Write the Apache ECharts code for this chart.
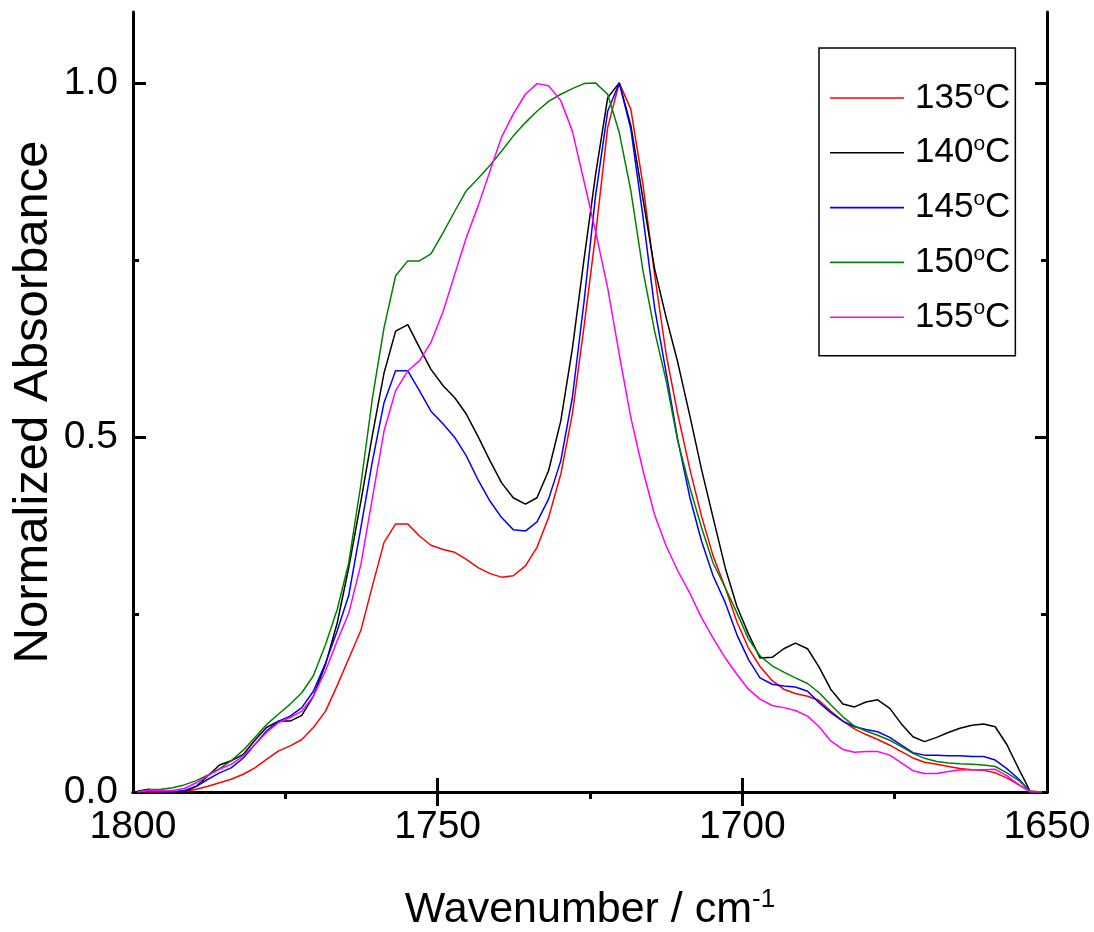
<!DOCTYPE html>
<html>
<head>
<meta charset="utf-8">
<script src="https://cdn.jsdelivr.net/npm/echarts@6/dist/echarts.min.js"></script>
<style>
  html, body { margin: 0; padding: 0; background: #ffffff; }
  #chart { width: 1094px; height: 932px; }
</style>
</head>
<body>
<div id="chart"></div>
<script>
// Wavenumber grid of the spectra (cm^-1), high to low
const wavenumbers = [
  1799.3, 1797.4, 1795.4, 1793.5, 1791.6, 1789.6, 1787.7, 1785.8, 1783.9, 1781.9,
  1780.0, 1778.1, 1776.1, 1774.2, 1772.3, 1770.4, 1768.4, 1766.5, 1764.6, 1762.6,
  1760.7, 1758.8, 1756.9, 1754.9, 1753.0, 1751.1, 1749.1, 1747.2, 1745.3, 1743.3,
  1741.4, 1739.5, 1737.6, 1735.6, 1733.7, 1731.8, 1729.8, 1727.9, 1726.0, 1724.1,
  1722.1, 1720.2, 1718.3, 1716.3, 1714.4, 1712.5, 1710.6, 1708.6, 1706.7, 1704.8,
  1702.8, 1700.9, 1699.0, 1697.1, 1695.1, 1693.2, 1691.3, 1689.3, 1687.4, 1685.5,
  1683.5, 1681.6, 1679.7, 1677.8, 1675.8, 1673.9, 1672.0, 1670.1, 1668.1, 1666.2,
  1664.3, 1662.3, 1660.4, 1658.5, 1656.6, 1654.6, 1652.7, 1650.8
];

// Normalized absorbance at each temperature
const abs135 = [
  0, 0, 0, 0, 0, 0.004, 0.008, 0.013, 0.018, 0.025,
  0.034, 0.046, 0.058, 0.065, 0.074, 0.091, 0.114, 0.150, 0.188, 0.228,
  0.291, 0.352, 0.378, 0.378, 0.361, 0.348, 0.342, 0.338, 0.328, 0.316,
  0.308, 0.303, 0.305, 0.319, 0.345, 0.387, 0.448, 0.533, 0.655, 0.785,
  0.937, 1.000, 0.963, 0.856, 0.730, 0.617, 0.533, 0.455, 0.389, 0.333,
  0.288, 0.240, 0.203, 0.177, 0.157, 0.145, 0.139, 0.135, 0.129, 0.114,
  0.100, 0.089, 0.081, 0.074, 0.066, 0.057, 0.048, 0.042, 0.039, 0.036,
  0.033, 0.0315, 0.0305, 0.027, 0.020, 0.010, 0.001, 0
];
const abs140 = [
  0.001, 0.004, 0.001, 0, 0, 0.008, 0.023, 0.038, 0.044, 0.053,
  0.073, 0.091, 0.100, 0.100, 0.108, 0.135, 0.180, 0.238, 0.316, 0.410,
  0.504, 0.591, 0.650, 0.659, 0.627, 0.596, 0.573, 0.556, 0.533, 0.500,
  0.467, 0.436, 0.415, 0.406, 0.415, 0.453, 0.523, 0.625, 0.750, 0.870,
  0.979, 1.000, 0.940, 0.836, 0.738, 0.669, 0.606, 0.530, 0.455, 0.387,
  0.316, 0.262, 0.223, 0.189, 0.190, 0.202, 0.210, 0.202, 0.176, 0.145,
  0.124, 0.120, 0.127, 0.130, 0.118, 0.096, 0.078, 0.071, 0.077, 0.084,
  0.090, 0.094, 0.096, 0.092, 0.067, 0.032, 0, 0
];
const abs145 = [
  0, 0.001, 0.0005, 0.0005, 0.002, 0.008, 0.018, 0.027, 0.034, 0.048,
  0.067, 0.086, 0.100, 0.107, 0.119, 0.142, 0.182, 0.227, 0.277, 0.373,
  0.467, 0.549, 0.594, 0.594, 0.566, 0.537, 0.519, 0.500, 0.474, 0.439,
  0.410, 0.387, 0.370, 0.368, 0.381, 0.413, 0.467, 0.556, 0.690, 0.840,
  0.960, 1.000, 0.935, 0.811, 0.683, 0.591, 0.497, 0.415, 0.354, 0.305,
  0.267, 0.222, 0.187, 0.161, 0.152, 0.1495, 0.148, 0.142, 0.126, 0.112,
  0.100, 0.092, 0.088, 0.085, 0.077, 0.066, 0.0555, 0.052, 0.0517, 0.051,
  0.051, 0.050, 0.050, 0.045, 0.033, 0.018, 0, 0
];
const abs150 = [
  0, 0.003, 0.004, 0.006, 0.010, 0.016, 0.024, 0.033, 0.044, 0.059,
  0.077, 0.095, 0.110, 0.124, 0.140, 0.164, 0.208, 0.257, 0.323, 0.434,
  0.556, 0.655, 0.728, 0.749, 0.749, 0.759, 0.789, 0.819, 0.848, 0.866,
  0.884, 0.904, 0.925, 0.944, 0.960, 0.974, 0.984, 0.992, 0.999, 1.000,
  0.984, 0.930, 0.848, 0.735, 0.650, 0.580, 0.495, 0.429, 0.373, 0.323,
  0.288, 0.253, 0.216, 0.192, 0.178, 0.169, 0.161, 0.153, 0.140, 0.123,
  0.106, 0.093, 0.086, 0.080, 0.073, 0.064, 0.0545, 0.0475, 0.043, 0.041,
  0.040, 0.039, 0.038, 0.036, 0.027, 0.016, 0.001, 0
];
const abs155 = [
  0, 0.002, 0.002, 0.002, 0.005, 0.013, 0.023, 0.032, 0.039, 0.051,
  0.067, 0.084, 0.098, 0.105, 0.114, 0.135, 0.171, 0.213, 0.252, 0.321,
  0.415, 0.509, 0.566, 0.594, 0.608, 0.634, 0.678, 0.730, 0.782, 0.828,
  0.876, 0.924, 0.956, 0.984, 0.999, 0.996, 0.975, 0.932, 0.862, 0.791,
  0.711, 0.617, 0.528, 0.453, 0.391, 0.347, 0.312, 0.280, 0.246, 0.217,
  0.189, 0.166, 0.145, 0.131, 0.122, 0.119, 0.115, 0.107, 0.092, 0.072,
  0.060, 0.056, 0.057, 0.057, 0.052, 0.041, 0.030, 0.026, 0.026, 0.029,
  0.031, 0.0315, 0.0315, 0.032, 0.023, 0.010, 0, 0
];

const seriesNames = ['135°C', '140°C', '145°C', '150°C', '155°C'];
const seriesColors = ['#ff0000', '#000000', '#0000ff', '#008000', '#ff00ff'];
const seriesValues = [abs135, abs140, abs145, abs150, abs155];

// Tick positions
const xMajorTicks = [1800, 1750, 1700, 1650];
const xMinorTicks = [1775, 1725, 1675];
const yMajorTicks = [0, 0.5, 1.0];
const yMinorTicks = [0.25, 0.75];

const SANS = '"Liberation Sans", Arial, sans-serif';
const frameLine = { show: true, lineStyle: { color: '#000', width: 3 } };
const noLine = { show: false };
const noLabel = { show: false };

function xAxisBase(extra) {
  return Object.assign({
    type: 'value', min: 1650, max: 1800, inverse: true,
    splitLine: { show: false }
  }, extra);
}
function yAxisBase(extra) {
  return Object.assign({
    type: 'value', min: 0, max: 1.1,
    splitLine: { show: false }
  }, extra);
}
function ticks(values, inside, length) {
  return { show: true, inside: inside, length: length, customValues: values,
           lineStyle: { color: '#000', width: 3 } };
}

const chart = echarts.init(document.getElementById('chart'), null, { renderer: 'canvas' });

chart.setOption({
  animation: false,
  backgroundColor: '#ffffff',
  grid: { left: 133, right: 47, top: 12, bottom: 140, containLabel: false, outerBoundsMode: 'none' },
  xAxis: [
    xAxisBase({
      position: 'bottom',
      axisLine: frameLine,
      axisTick: ticks(xMajorTicks, true, 14),
      axisLabel: {
        customValues: xMajorTicks, margin: 16,
        fontSize: 39, fontFamily: SANS, color: '#000',
        formatter: v => String(v)
      },
      name: '{t|Wavenumber / cm}{s|-1}',
      nameLocation: 'middle',
      nameGap: 95,
      nameTextStyle: {
        rich: {
          t: { fontSize: 43, fontFamily: SANS, color: '#000', lineHeight: 46 },
          s: { fontSize: 26, fontFamily: SANS, color: '#000', verticalAlign: 'top', lineHeight: 24 }
        }
      }
    }),
    xAxisBase({ position: 'bottom', axisLine: noLine, axisLabel: noLabel,
                axisTick: ticks(xMinorTicks, false, 7) }),
    xAxisBase({ position: 'top', axisLine: frameLine, axisLabel: noLabel,
                axisTick: ticks([1750, 1700], true, 14) }),
    xAxisBase({ position: 'top', axisLine: noLine, axisLabel: noLabel,
                axisTick: ticks(xMinorTicks, true, 7) })
  ],
  yAxis: [
    yAxisBase({
      position: 'left',
      axisLine: frameLine,
      axisTick: ticks(yMajorTicks, true, 13),
      axisLabel: {
        customValues: yMajorTicks, margin: 15,
        fontSize: 39, fontFamily: SANS, color: '#000',
        formatter: v => v.toFixed(1)
      },
      name: 'Normalized Absorbance',
      nameLocation: 'middle',
      nameGap: 75,
      nameMoveOverlap: false,
      nameTextStyle: { fontSize: 49, fontFamily: SANS, color: '#000' }
    }),
    yAxisBase({ position: 'left', axisLine: noLine, axisLabel: noLabel,
                axisTick: ticks(yMinorTicks, true, 6) }),
    yAxisBase({ position: 'right', axisLine: frameLine, axisLabel: noLabel,
                axisTick: ticks(yMajorTicks, true, 12) }),
    yAxisBase({ position: 'right', axisLine: noLine, axisLabel: noLabel,
                axisTick: ticks(yMinorTicks, true, 6) })
  ],
  legend: {
    orient: 'vertical',
    left: 819, top: 48,
    padding: [31, 5, 21, 11],
    itemGap: 18.3,
    itemWidth: 74,
    itemHeight: 1.6,
    icon: 'rect',
    selectedMode: false,
    borderColor: '#000', borderWidth: 1.5, backgroundColor: '#ffffff',
    data: seriesNames,
    formatter: name => '{n|' + name.replace('°C', '') + '}{s|o}{n|C}',
    textStyle: {
      padding: [0, 0, 0, 6],
      rich: {
        n: { fontSize: 35, fontFamily: SANS, color: '#000', lineHeight: 38 },
        s: { fontSize: 21, fontFamily: SANS, color: '#000', verticalAlign: 'top', lineHeight: 20 }
      }
    }
  },
  series: seriesNames.map((name, i) => ({
    name: name,
    type: 'line',
    xAxisIndex: 0,
    yAxisIndex: 0,
    symbol: 'none',
    smooth: false,
    clip: true,
    color: seriesColors[i],
    lineStyle: { color: seriesColors[i], width: 1.5 },
    data: wavenumbers.map((w, j) => [w, seriesValues[i][j]])
  }))
});
</script>
</body>
</html>
